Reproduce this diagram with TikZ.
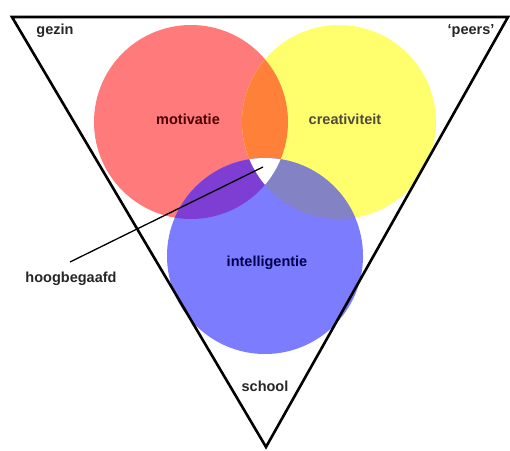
\documentclass[tikz,border=0pt]{standalone}
\usepackage{fontspec}
\setmainfont{Liberation Sans}
\definecolor{cred}{RGB}{255,122,122}
\definecolor{cyellow}{RGB}{255,255,110}
\definecolor{cblue}{RGB}{124,124,255}
\definecolor{corange}{RGB}{255,128,56}
\definecolor{cpurple}{RGB}{126,62,212}
\definecolor{cgrayblue}{RGB}{130,130,196}
\tikzset{
  lbl/.style={font=\fontsize{14.5}{17}\selectfont\bfseries, inner sep=0pt, text=black!85},
  frame/.style={line width=2.6pt, draw=black, line join=miter},
  pointer/.style={line width=1.3pt, draw=black},
}
\begin{document}
\begin{tikzpicture}[x=1pt,y=-1pt]
\useasboundingbox (0,0) rectangle (510,450);
\fill[white] (0,0) rectangle (510,450);
% circles
\def\rc{(191,122) circle[radius=97]}
\def\yc{(339,122) circle[radius=97]}
\def\bc{(265,256) circle[radius=98]}
\fill[cred] \rc;
\fill[cyellow] \yc;
\fill[cblue] \bc;
\begin{scope}
  \clip \rc;
  \fill[corange] \yc;
  \fill[cpurple] \bc;
\end{scope}
\begin{scope}
  \clip \yc;
  \fill[cgrayblue] \bc;
\end{scope}
\begin{scope}
  \clip \rc;
  \clip \yc;
  \fill[white] \bc;
\end{scope}
% frame
\coordinate (tl) at (12,17);
\coordinate (tr) at (508,17);
\coordinate (ap) at (266,447);
\draw[frame] (tl) -- (tr) -- (ap) -- cycle;
% labels
\node[lbl] (gezin) at (55,31) {gezin};
\node[lbl] (peers) at (471,31) {`peers'};
\node[lbl, text=black!70!red] (mot) at (188,119) {motivatie};
\node[lbl, text=black!80!yellow] (cre) at (345,119) {creativiteit};
\node[lbl, text=black!70!blue] (int) at (267,263) {intelligentie};
\node[lbl] (hoog) at (71,279) {hoogbegaafd};
\node[lbl] (school) at (265,386) {school};
% pointer
\coordinate (hbtop) at (70,262);
\coordinate (core) at (263,167);
\draw[pointer] (hbtop) -- (core);
\end{tikzpicture}
\end{document}
